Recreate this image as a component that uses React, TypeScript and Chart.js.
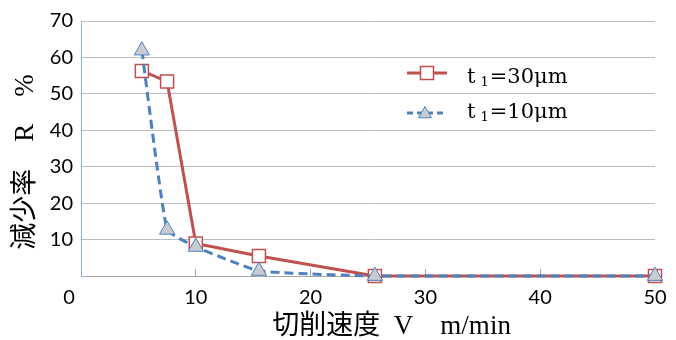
import React, { useEffect, useRef } from 'react';
import { Chart, registerables } from 'chart.js';

Chart.register(...registerables);

// ---- data ----
const speeds = [5.3, 7.5, 10, 15.5, 25.6, 50];
const rate30 = [56.3, 53.4, 8.9, 5.5, 0, 0];
const rate10 = [61.9, 12.7, 8.0, 1.4, 0, 0];
const seriesMain = ['t', 't'];
const seriesSub = ['1', '1'];
const seriesRest = ['=30μm', '=10μm'];
const xTickStep = 10;
const yTickStep = 10;
const xRange = [0, 50];
const yRange = [0, 70];
const xTitle = '\u3000   切削速度  V\u3000m/min';
const yTitle = '減少率\u3000R\u3000%\u3000';

const RED = '#C0504D';
const BLUE = '#4F81BD';
const TRI_FILL = '#c8cbd0';
const TICK_FONT = "Lato, 'Noto Sans', sans-serif";
const SERIF = "'Liberation Serif', 'Noto Sans CJK JP', serif";
const LEGEND_FONT = "'DejaVu Serif', 'Liberation Serif', serif";

const legendPlugin = {
  id: 'inlineLegend',
  afterDraw(chart: any) {
    const ctx = chart.ctx as CanvasRenderingContext2D;
    const ds = chart.data.datasets;
    const lx0 = 407;
    const lx1 = 447;
    const mx = 427;
    const tx = 467;
    ds.forEach((d: any, i: number) => {
      const y = 73 + i * 40;
      const ty = 83 + i * 35;
      ctx.save();
      ctx.strokeStyle = d.borderColor;
      ctx.lineWidth = 3;
      ctx.setLineDash(d.borderDash ? [6, 4] : []);
      ctx.beginPath();
      ctx.moveTo(lx0, y);
      ctx.lineTo(i === 0 ? lx1 : lx1 - 4, y);
      ctx.stroke();
      ctx.setLineDash([]);
      ctx.fillStyle = d.pointBackgroundColor;
      ctx.strokeStyle = d.pointBorderColor;
      ctx.lineWidth = d.pointBorderWidth;
      if (d.pointStyle === 'rect') {
        const s = 13;
        ctx.fillRect(mx - s / 2, y - s / 2, s, s);
        ctx.strokeRect(mx - s / 2, y - s / 2, s, s);
      } else {
        const r = 7.5;
        ctx.beginPath();
        for (let k = 0; k < 3; k++) {
          const a = (k * 2 * Math.PI) / 3;
          const px = mx - 2 + Math.sin(a) * r;
          const py = y + 1 - Math.cos(a) * r;
          if (k === 0) ctx.moveTo(px, py);
          else ctx.lineTo(px, py);
        }
        ctx.closePath();
        ctx.fill();
        ctx.stroke();
      }
      ctx.fillStyle = '#000';
      ctx.textBaseline = 'alphabetic';
      ctx.textAlign = 'left';
      ctx.font = `21px ${LEGEND_FONT}`;
      let x = tx;
      ctx.fillText(seriesMain[i], x, ty);
      x += ctx.measureText(seriesMain[i]).width + 5;
      ctx.font = `13px ${LEGEND_FONT}`;
      ctx.fillText(seriesSub[i], x, ty + 3);
      x += ctx.measureText(seriesSub[i]).width + 1;
      ctx.font = `21px ${LEGEND_FONT}`;
      ctx.fillText(seriesRest[i], x, ty);
      ctx.restore();
    });
  },
};

const zeroLabelPlugin = {
  id: 'zeroLabel',
  afterDraw(chart: any) {
    const ctx = chart.ctx as CanvasRenderingContext2D;
    const xs = chart.scales.x;
    ctx.save();
    ctx.fillStyle = '#000';
    ctx.font = `20px ${TICK_FONT}`;
    ctx.textAlign = 'center';
    ctx.textBaseline = 'middle';
    ctx.fillText(String(xRange[0]), xs.getPixelForValue(xRange[0]) - 12, 298);
    ctx.restore();
  },
};

export default function App() {
  const ref = useRef<HTMLCanvasElement>(null);
  useEffect(() => {
    const canvas = ref.current;
    if (!canvas) return;
    const chart = new Chart(canvas, {
      type: 'line',
      data: {
        datasets: [
          {
            label: seriesMain[0] + seriesSub[0] + seriesRest[0],
            data: speeds.map((x, i) => ({ x, y: rate30[i] })),
            borderColor: RED,
            borderWidth: 3,
            pointStyle: 'rect',
            pointRadius: 9.2,
            pointBackgroundColor: '#ffffff',
            pointBorderColor: RED,
            pointBorderWidth: 1.5,
            tension: 0,
            clip: false,
            order: 1,
          } as any,
          {
            label: seriesMain[1] + seriesSub[1] + seriesRest[1],
            data: speeds.map((x, i) => ({ x, y: rate10[i] })),
            borderColor: BLUE,
            borderWidth: 3,
            borderDash: [9, 5],
            pointStyle: 'triangle',
            pointRadius: 8.8,
            pointBackgroundColor: TRI_FILL,
            pointBorderColor: BLUE,
            pointBorderWidth: 1,
            tension: 0.12,
            clip: false,
            order: 0,
          } as any,
        ],
      },
      options: {
        responsive: false,
        animation: false,
        layout: { padding: { left: 0, right: 21, top: 21, bottom: 0 } },
        plugins: {
          legend: { display: false },
          tooltip: { enabled: false },
        },
        scales: {
          x: {
            type: 'linear',
            min: xRange[0],
            max: xRange[1],
            ticks: {
              stepSize: xTickStep,
              padding: 17,
              color: '#000',
              font: { family: TICK_FONT, size: 20 },
              callback: (v: any) => (v === xRange[0] ? '' : String(v)),
            },
            grid: {
              drawOnChartArea: false,
              drawTicks: true,
              tickLength: -7,
              color: '#a6a6a6',
            },
            border: { color: '#a6a6a6', width: 1 },
            title: {
              display: true,
              text: xTitle,
              color: '#000',
              font: { family: SERIF, size: 27, lineHeight: 1 },
              padding: { top: 0, bottom: 0 },
            },
            afterFit: (s: any) => {
              s.height = 64;
              s.paddingLeft = 0;
              s.paddingRight = 0;
            },
          },
          y: {
            type: 'linear',
            min: yRange[0],
            max: yRange[1],
            ticks: {
              stepSize: yTickStep,
              padding: 8,
              color: '#000',
              font: { family: TICK_FONT, size: 20 },
              callback: (v: any) => (v === yRange[0] ? '' : String(v)),
            },
            grid: { drawTicks: false, color: '#bdbdbd' },
            border: { color: '#8fb4e0', width: 1 },
            title: {
              display: true,
              text: yTitle,
              color: '#000',
              font: { family: SERIF, size: 27, lineHeight: 1 },
              padding: { top: 12, bottom: 0 },
            },
            afterFit: (s: any) => {
              s.width = 81;
              s.paddingTop = 0;
              s.paddingBottom = 0;
            },
          },
        },
      } as any,
      plugins: [legendPlugin, zeroLabelPlugin],
    });
    return () => chart.destroy();
  }, []);

  return (
    <div style={{ position: 'fixed', left: 0, top: 0, width: 676, height: 340, background: '#fff' }}>
      <canvas ref={ref} width={676} height={340} style={{ display: 'block' }} />
    </div>
  );
}
